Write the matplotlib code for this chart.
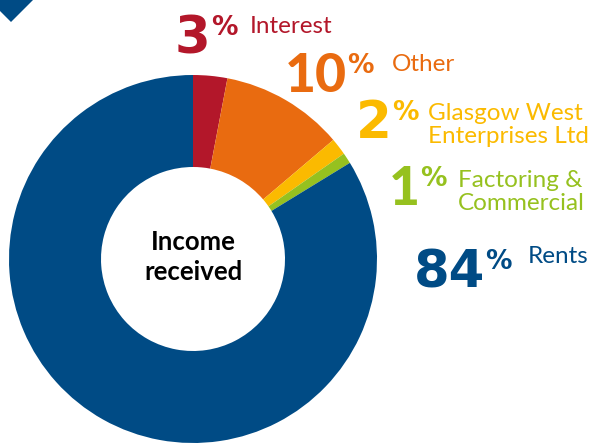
import matplotlib.pyplot as plt
from matplotlib.patches import Polygon

# Income shares (slice sizes read from the ring, labels as printed)
categories = ['Interest', 'Other', 'Glasgow West\nEnterprises Ltd', 'Factoring &\nCommercial', 'Rents']
shares = [3.0, 10.8, 1.5, 0.95, 83.75]
pct_labels = ['3', '10', '2', '1', '84']
colors = ['#b3172a', '#e96b10', '#fbba00', '#96c11f', '#004b85']

# label placement in pixels: number origin x, number baseline, label x, baseline of last label line
num_x = [175, 285, 356, 389, 414]
num_base = [53, 92, 138, 205, 287]
lab_x = [250, 392, 428, 458, 528]
lab_base = [33, 71, 143, 210, 263]

# DejaVu's "1" is too wide, so numbers with a 1 use Lato
num_font = ['DejaVu Sans', 'Lato', 'DejaVu Sans', 'Lato', 'DejaVu Sans']
num_size = [37, 38.5, 37, 38.5, 37]

W, H = 593, 445
fig = plt.figure(figsize=(W / 100, H / 100), dpi=100)
ax = fig.add_axes([0, 0, 1, 1])

cx, cy, r = 193, H - 259, 184
ax.pie(shares, colors=colors, startangle=90, counterclock=False,
       center=(cx, cy), radius=r,
       wedgeprops=dict(width=r * 0.5, linewidth=0))

ax.set_xlim(0, W)
ax.set_ylim(0, H)
ax.set_aspect('equal')
ax.axis('off')

# corner decoration
ax.add_patch(Polygon([(0, H), (33, H), (11, H - 22), (0, H - 11)],
                     closed=True, color='#004b85', lw=0))

ax.text(cx, cy + 2, 'Income\nreceived', ha='center', va='center',
        fontsize=18.5, fontweight='bold', family='Lato', color='black',
        linespacing=1.3)

for i in range(len(categories)):
    t = ax.text(num_x[i], H - num_base[i], pct_labels[i], ha='left', va='baseline',
                fontsize=num_size[i], fontweight='black', family=num_font[i], color=colors[i])
    ax.annotate('%', xy=(1, 1), xycoords=t, xytext=(0, -1), textcoords='offset points',
                ha='left', va='top', fontsize=19, fontweight='bold',
                family='DejaVu Sans', color=colors[i])
    ax.text(lab_x[i], H - lab_base[i], categories[i], ha='left', va='baseline',
            fontsize=17.5, family='Lato', color=colors[i], linespacing=1.1)

fig.savefig('out.png', dpi=100)
